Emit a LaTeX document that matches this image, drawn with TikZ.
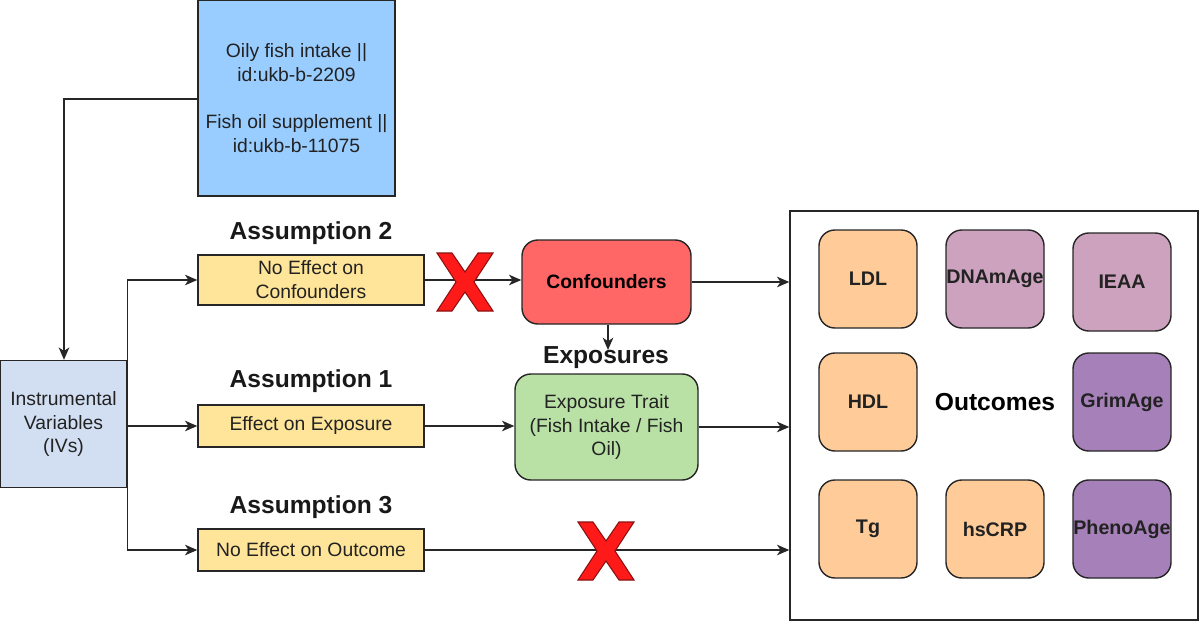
\documentclass[tikz,border=0pt]{standalone}
\usepackage{fontspec}
\setmainfont{Liberation Sans}
\usetikzlibrary{arrows.meta}
\definecolor{topblue}{HTML}{99CCFF}
\definecolor{ivblue}{HTML}{D2DFF3}
\definecolor{ayellow}{HTML}{FFE599}
\definecolor{conred}{HTML}{FF6666}
\definecolor{expgreen}{HTML}{B9E0A5}
\definecolor{oorange}{HTML}{FFCC99}
\definecolor{plight}{HTML}{CDA2BE}
\definecolor{pdark}{HTML}{A680B8}
\definecolor{txt}{HTML}{222222}
\definecolor{xred}{HTML}{FF1A1A}
\definecolor{xedge}{HTML}{8B1010}
\begin{document}
\begin{tikzpicture}[x=0.02cm,y=-0.02cm,
  box/.style={draw=black!85,line width=0.8pt,text=txt,align=center,inner sep=0pt,
    font=\fontsize{11}{13.6}\selectfont},
  rbox/.style={box,rounded corners=9pt},
  obox/.style={rbox,minimum width=98*0.02cm,minimum height=98*0.02cm,
    font=\fontsize{11.2}{13.6}\selectfont\bfseries},
  title/.style={font=\fontsize{14}{16}\selectfont\bfseries,text=black!90,inner sep=0pt},
  conn/.style={draw=black!85,line width=0.8pt,-{Stealth[length=7pt,width=6pt,inset=2pt]}},
  crossmark/.pic={\filldraw[fill=xred,draw=xedge,line width=0.6pt]
    (-28,-29)--(-13,-29)--(0,-10)--(13,-29)--(28,-29)--(9,0)--(28,29)--(13,29)
    --(0,10)--(-13,29)--(-28,29)--(-9,0)--cycle;}
]
\useasboundingbox (0,0) rectangle (1200,622);

% top data box
\node[box,fill=topblue,minimum width=197*0.02cm,minimum height=196*0.02cm] (src) at (296.5,98)
  {Oily fish intake ||\\id:ukb-b-2209\\[13.6pt]Fish oil supplement ||\\id:ukb-b-11075};

% instrumental variables
\node[box,fill=ivblue,minimum width=127*0.02cm,minimum height=127*0.02cm] (iv) at (63.5,424)
  {Instrumental\\Variables\\(IVs)};

% assumption boxes
\node[box,fill=ayellow,minimum width=226*0.02cm,minimum height=50*0.02cm] (nec) at (311,280)
  {No Effect on\\Confounders};
\node[box,fill=ayellow,minimum width=226*0.02cm,minimum height=42*0.02cm] (eoe) at (311,426)
  {Effect on Exposure};
\node[box,fill=ayellow,minimum width=226*0.02cm,minimum height=42*0.02cm] (neo) at (311,550)
  {No Effect on Outcome};

\node[title] (a2) at (311,233) {Assumption 2};
\node[title] (a1) at (311,381) {Assumption 1};
\node[title] (a3) at (311,507) {Assumption 3};

% confounders and exposure
\node[rbox,fill=conred,minimum width=169*0.02cm,minimum height=84*0.02cm,
  font=\fontsize{11}{13.6}\selectfont\bfseries,text=black] (conf) at (606.5,282) {Confounders};
\node[title] (expl) at (606,358) {Exposures};
\node[rbox,fill=expgreen,minimum width=183*0.02cm,minimum height=106*0.02cm] (expo) at (606.5,427)
  {Exposure Trait\\(Fish Intake / Fish\\Oil)};
\coordinate (exptip) at (608,350);

% outcomes panel
\node[draw=black!85,line width=0.8pt,minimum width=408*0.02cm,minimum height=409*0.02cm,inner sep=0pt]
  (outc) at (994,415.5) {};
\node[font=\fontsize{14}{16}\selectfont\bfseries,inner sep=0pt] (outl) at (995,402) {Outcomes};
\node[obox,fill=oorange] (ldl) at (868,279) {LDL};
\node[obox,fill=plight] (dnam) at (995,279) {DNAmAge};
\node[obox,fill=plight] (ieaa) at (1122,282) {IEAA};
\node[obox,fill=oorange] (hdl) at (868,402) {HDL};
\node[obox,fill=pdark] (grim) at (1122,402) {GrimAge};
\node[obox,fill=oorange] (tg) at (868,529) {Tg};
\node[obox,fill=oorange] (hscrp) at (995,529) {hsCRP};
\node[obox,fill=pdark] (pheno) at (1122,529) {PhenoAge};

% connectors
\draw[conn] (src.west |- 0,99) -| (iv.north -| 64,0);
\draw[conn] (iv.east |- eoe.west) -- (eoe.west);
\draw[conn] (iv.east |- 0,426) |- (nec.west);
\draw[conn] (iv.east |- 0,426) |- (neo.west);
\draw[conn] (nec.east) -- (conf.west |- nec.east);
\draw[conn] (conf.south -| exptip) -- (exptip);
\draw[conn] (eoe.east) -- (expo.west |- eoe.east);
\draw[conn] (conf.east) -- (outc.west |- conf.east);
\draw[conn] (expo.east) -- (outc.west |- expo.east);
\draw[conn] (neo.east) -- (outc.west |- neo.east);

% crosses
\pic at (465,282) {crossmark};
\pic at (606,551) {crossmark};
\end{tikzpicture}
\end{document}
